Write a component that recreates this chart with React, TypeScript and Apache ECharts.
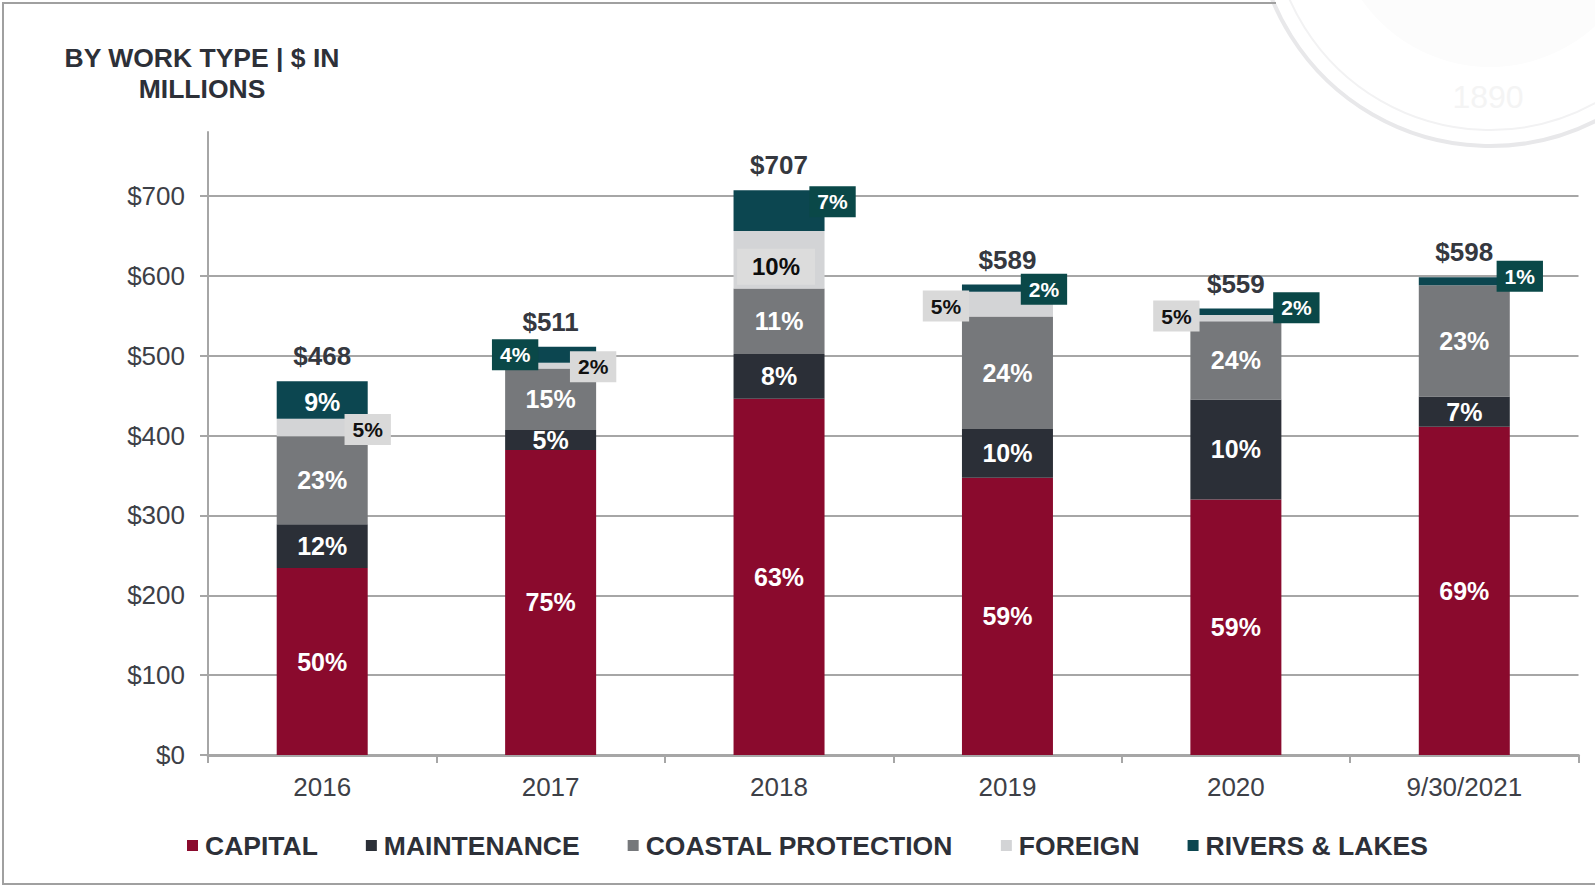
import React, { useEffect, useRef } from 'react';
import * as echarts from 'echarts';

const categories = ['2016', '2017', '2018', '2019', '2020', '9/30/2021'];
const capital = [234, 382, 446, 347, 320, 411];
const maintenance = [55, 25, 56, 61, 125, 38];
const coastal = [110, 77, 82, 141, 98, 139];
const foreign = [22, 7, 72, 31, 8, 0];
const rivers = [47, 20, 51, 9, 8, 10];
const totals = [468, 511, 707, 589, 559, 598];

const capitalPct = ['50%', '75%', '63%', '59%', '59%', '69%'];
const maintenancePct = ['12%', '5%', '8%', '10%', '10%', '7%'];
const coastalPct = ['23%', '15%', '11%', '24%', '24%', '23%'];
const foreignPct = ['5%', '2%', '10%', '5%', '5%', ''];
const riversPct = ['9%', '4%', '7%', '2%', '2%', '1%'];

const yMax = 780;
const yStep = 100;

// label placement styles: [anchor x % of bar, dx, dy, kind]
const foreignPlace: [number, number, number, string][] = [
  [100, 0, 2, 'box'], [100, -3, 1, 'box'], [50, -3, 7, 'insideBox'],
  [0, -16, 2, 'box'], [0, -14, -2, 'box'], [50, 0, 0, 'none'],
];
const riversPlace: [number, number, number, string][] = [
  [50, 0, 2, 'inside'], [0, 10, 0, 'box'], [100, 8, -9, 'box'],
  [100, -9, 1, 'box'], [100, 15, -4, 'box'], [100, 10, -5, 'box'],
];

const FONT = "'Liberation Sans', Arial, Helvetica, sans-serif";
const C_CAPITAL = '#8a0a2d';
const C_MAINT = '#2b2f37';
const C_COASTAL = '#76787b';
const C_FOREIGN = '#d3d4d6';
const C_RIVERS = '#0c4650';
const TXT = '#3d4047';

const insideLabel = (pcts: string[]) => ({
  show: true,
  position: 'inside',
  color: '#ffffff',
  fontSize: 25,
  fontWeight: 'bold',
  fontFamily: FONT,
  formatter: (p: any) => pcts[p.dataIndex],
});

function placedData(vals: number[], place: [number, number, number, string][], boxBg: string, boxColor: string) {
  return vals.map((v, i) => {
    const [ax, dx, dy, kind] = place[i];
    let label: any;
    if (kind === 'none' || v === 0) {
      label = { show: false };
    } else if (kind === 'inside') {
      label = { show: true, position: 'inside', offset: [dx, dy] };
    } else if (kind === 'insideBox') {
      label = {
        show: true,
        position: ['50%', '50%'],
        align: 'center',
        verticalAlign: 'middle',
        offset: [dx, dy],
        backgroundColor: '#dcdcdc',
        color: '#0d0d0d',
        fontSize: 24,
        padding: [6, 15],
      };
    } else {
      label = {
        show: true,
        position: [ax + '%', '50%'],
        align: 'center',
        verticalAlign: 'middle',
        offset: [dx, dy],
        backgroundColor: boxBg,
        color: boxColor,
        fontSize: 21,
        padding: [5, 8],
      };
    }
    return { value: v, label };
  });
}

export default function App() {
  const ref = useRef<HTMLDivElement>(null);
  useEffect(() => {
    if (!ref.current) return;
    const chart = echarts.init(ref.current, null, { renderer: 'svg' });
    const barBase = { type: 'bar', stack: 'total', barWidth: 91 };
    const option: any = {
      animation: false,
      backgroundColor: '#ffffff',
      textStyle: { fontFamily: FONT },
      title: {
        text: 'BY WORK TYPE | $ IN\nMILLIONS',
        left: 202,
        top: 43,
        padding: 0,
        textAlign: 'center',
        textStyle: { fontFamily: FONT, fontSize: 26.5, fontWeight: 'bold', color: '#2d3038', lineHeight: 30.5 },
      },
      legend: {
        data: ['CAPITAL', 'MAINTENANCE', 'COASTAL PROTECTION', 'FOREIGN', 'RIVERS & LAKES'],
        left: 187,
        top: 832,
        padding: 0,
        icon: 'rect',
        itemWidth: 11,
        itemHeight: 11,
        itemGap: 48,
        textStyle: { fontFamily: FONT, fontSize: 26.5, fontWeight: 'bold', color: '#2d3038', padding: [0, 0, 0, 2] },
        selectedMode: false,
      },
      grid: { left: 208, right: 16.5, top: 132, bottom: 132, containLabel: false },
      xAxis: {
        type: 'category',
        data: categories,
        axisLine: { lineStyle: { color: '#a6a6a6', width: 3 } },
        axisTick: { show: true, length: 8, lineStyle: { color: '#a6a6a6', width: 2 } },
        axisLabel: { fontFamily: FONT, fontSize: 26, color: TXT, margin: 19 },
      },
      yAxis: {
        type: 'value',
        min: 0,
        max: yMax,
        interval: yStep,
        axisLine: { show: true, lineStyle: { color: '#a6a6a6', width: 2 } },
        axisTick: { show: true, length: 8, lineStyle: { color: '#a6a6a6', width: 2 } },
        axisLabel: {
          fontFamily: FONT,
          fontSize: 26,
          color: TXT,
          margin: 23,
          showMaxLabel: false,
          formatter: (v: number) => (v % yStep === 0 ? '$' + v : ''),
        },
        splitLine: { show: true, showMaxLine: false, lineStyle: { color: '#a6a6a6', width: 2 } },
      },
      graphic: [
        {
          type: 'circle', silent: true, z: -1,
          shape: { cx: 1490, cy: -89, r: 156 },
          style: { fill: '#fcfcfc', stroke: 'none' },
        },
        {
          type: 'circle', silent: true, z: -1,
          shape: { cx: 1490, cy: -89, r: 219 },
          style: { fill: 'none', stroke: '#f2f2f3', lineWidth: 2 },
        },
        {
          type: 'circle', silent: true, z: -1,
          shape: { cx: 1490, cy: -89, r: 235 },
          style: { fill: 'none', stroke: '#e8e8ea', lineWidth: 4 },
        },
        {
          type: 'text', silent: true, z: -1,
          x: 1488, y: 97,
          style: { text: '1890', fill: '#f4f4f4', font: `32px ${FONT}`, textAlign: 'center', textVerticalAlign: 'middle' },
        },
        {
          type: 'polyline', silent: true, z: 10,
          shape: { points: [[1276, 3], [3, 3], [3, 884], [1595, 884]] },
          style: { fill: 'none', stroke: '#a0a0a0', lineWidth: 2 },
        },
      ],
      series: [
        { ...barBase, name: 'CAPITAL', data: capital, itemStyle: { color: C_CAPITAL }, label: insideLabel(capitalPct), z: 2 },
        { ...barBase, name: 'MAINTENANCE', data: maintenance, itemStyle: { color: C_MAINT }, label: insideLabel(maintenancePct), z: 2 },
        { ...barBase, name: 'COASTAL PROTECTION', data: coastal, itemStyle: { color: C_COASTAL }, label: insideLabel(coastalPct), z: 2 },
        {
          ...barBase, name: 'FOREIGN',
          data: placedData(foreign, foreignPlace, '#d9d9d9', '#111111'),
          itemStyle: { color: C_FOREIGN },
          label: { ...insideLabel(foreignPct), color: '#111111' },
          z: 2,
        },
        {
          ...barBase, name: 'RIVERS & LAKES',
          data: placedData(rivers, riversPlace, '#0a4848', '#ffffff'),
          itemStyle: { color: C_RIVERS },
          label: insideLabel(riversPct),
          z: 2,
        },
        {
          type: 'scatter',
          name: 'TOTAL',
          data: totals,
          symbolSize: 0,
          silent: true,
          z: 5,
          itemStyle: { opacity: 1 },
          label: {
            show: true,
            position: 'top',
            distance: 12,
            color: '#35383f',
            opacity: 1,
            fontFamily: FONT,
            fontSize: 26,
            fontWeight: 'bold',
            formatter: (p: any) => '$' + totals[p.dataIndex],
          },
        },
      ],
    };
    chart.setOption(option);
    return () => chart.dispose();
  }, []);
  return (
    <div
      ref={ref}
      style={{ position: 'fixed', left: 0, top: 0, width: 1595, height: 887, background: '#ffffff' }}
    />
  );
}
